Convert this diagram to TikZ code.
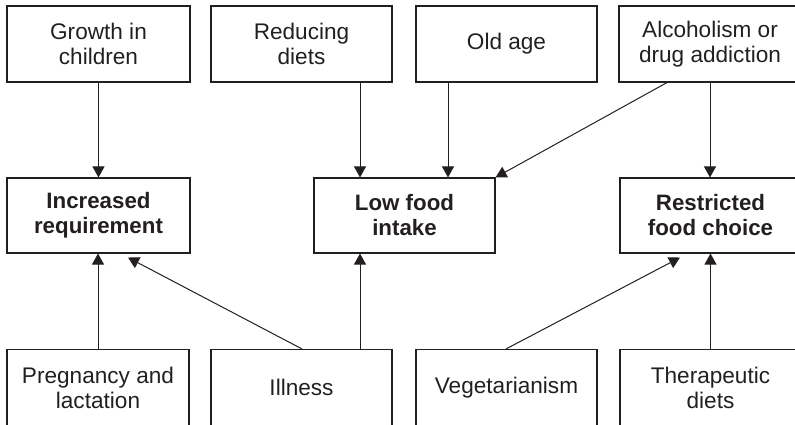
\documentclass[tikz,border=0pt]{standalone}
\usepackage{fontspec}
\setmainfont{Liberation Sans}
\usetikzlibrary{arrows.meta}
\definecolor{ink}{HTML}{231F20}
\tikzset{
  box/.style={draw=ink, line width=1.1pt, text=ink, align=center, inner sep=0pt,
    font=\fontsize{22.6}{25}\selectfont, minimum height=76pt},
  keybox/.style={box, font=\fontsize{22.3}{25}\selectfont\bfseries},
  arr/.style={draw=ink, line width=1pt, -{Triangle[length=11pt,width=12pt]}}
}
\begin{document}
\begin{tikzpicture}[x=1pt,y=-1pt]
\useasboundingbox (0,0) rectangle (795,425);
\clip (0,0) rectangle (795,425);
% top row
\node[box, minimum width=183pt] (grow) at (98.5,44) {Growth in\\children};
\node[box, minimum width=181pt] (red) at (301.5,44) {Reducing\\diets};
\node[box, minimum width=181pt] (old) at (506.5,44) {Old age};
\node[box, minimum width=182pt] (alc) at (710,44) {Alcoholism or\\drug addiction};
% middle row
\node[keybox, minimum width=183pt, minimum height=75pt] (inc) at (98.5,215.5) {Increased\\requirement};
\node[keybox, minimum width=181pt, minimum height=75pt] (low) at (404.5,215.5) {Low food\\intake};
\node[keybox, minimum width=181pt, minimum height=75pt] (res) at (710.5,215.5) {Restricted\\food choice};
% bottom row
\node[box, minimum width=182pt] (preg) at (98,387.5) {Pregnancy and\\lactation};
\node[box, minimum width=181pt] (ill) at (301.5,387.5) {Illness};
\node[box, minimum width=181pt] (veg) at (506.5,387.5) {Vegetarianism};
\node[box, minimum width=181pt] (ther) at (710.5,387.5) {Therapeutic\\diets};
% arrows down
\draw[arr] (grow.south) -- (inc.north);
\draw[arr] ([xshift=58.5pt]red.south) -- ([xshift=-44.5pt]low.north);
\draw[arr] ([xshift=-58.5pt]old.south) -- ([xshift=43.5pt]low.north);
\draw[arr] ([xshift=-43pt]alc.south) -- (low.north east);
\draw[arr] (alc.south) -- (alc.south |- res.north);
% arrows up
\draw[arr] (preg.north) -- (preg.north |- inc.south);
\draw[arr] ([xshift=0.5pt]ill.north) -- ([xshift=29.5pt,yshift=-4pt]inc.south);
\draw[arr] ([xshift=58.5pt]ill.north) -- ([xshift=-44.5pt]low.south);
\draw[arr] ([xshift=-0.5pt]veg.north) -- ([xshift=-30.5pt,yshift=-4pt]res.south);
\draw[arr] (ther.north) -- (res.south);
\end{tikzpicture}
\end{document}
